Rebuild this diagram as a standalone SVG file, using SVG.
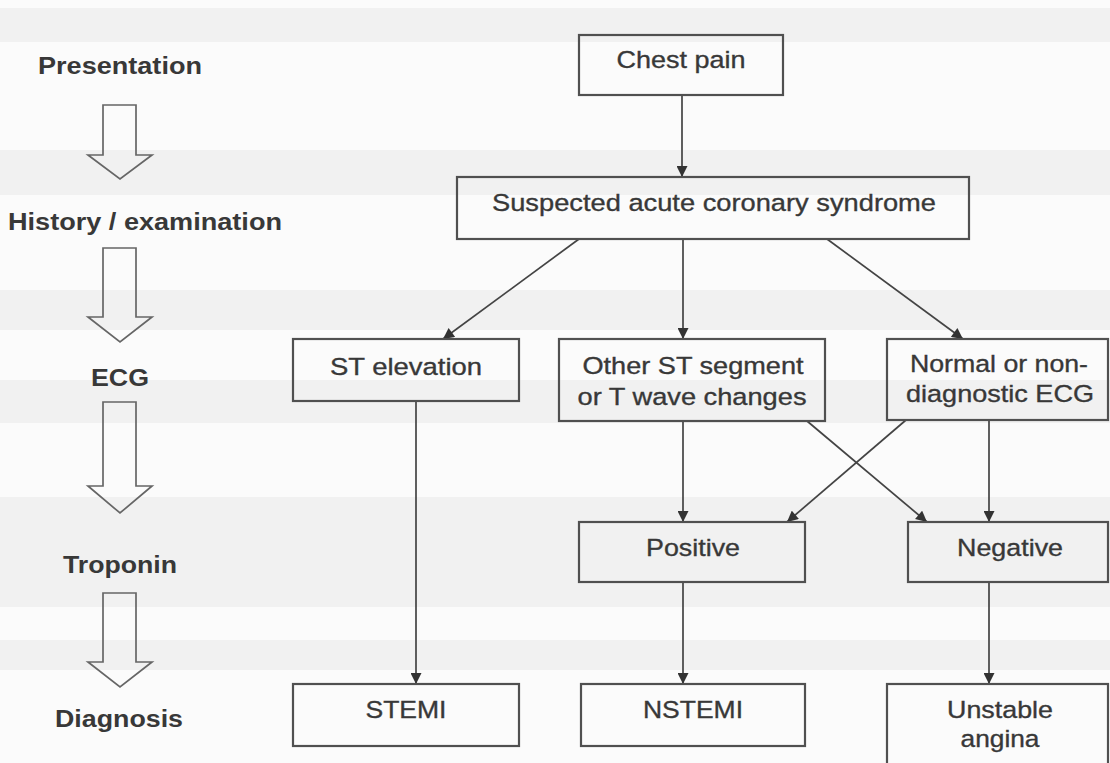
<svg xmlns="http://www.w3.org/2000/svg" width="1110" height="763" viewBox="0 0 1110 763">
<defs>
<style>
.bg{fill:#fbfbfb}
.band{fill:#f1f1f1}
.box{fill:none;stroke:#505050;stroke-width:2.2}
.t{font-family:"Liberation Sans",Arial,sans-serif;font-size:24.5px;fill:#383838;stroke:#383838;stroke-width:0.35;text-anchor:middle}
.lb{font-family:"Liberation Sans",Arial,sans-serif;font-size:23px;font-weight:bold;fill:#383838;text-anchor:middle}
.c{fill:none;stroke:#444;stroke-width:1.7;marker-end:url(#ah)}
.ha{fill:none;stroke:#666;stroke-width:1.7;stroke-linejoin:miter}
</style>
<marker id="ah" viewBox="0 0 10 10" refX="10" refY="5" markerWidth="12" markerHeight="11" orient="auto" markerUnits="userSpaceOnUse">
<path d="M0,0 L10,5 L0,10 Z" fill="#333"/>
</marker>
</defs>
<rect class="bg" x="0" y="0" width="1110" height="763"/>
<rect class="band" x="0" y="8" width="1110" height="34"/>
<rect class="band" x="0" y="150" width="1110" height="45"/>
<rect class="band" x="0" y="290" width="1110" height="40"/>
<rect class="band" x="0" y="380" width="1110" height="43"/>
<rect class="band" x="0" y="497" width="1110" height="110"/>
<rect class="band" x="0" y="640" width="1110" height="30"/>

<g id="stages">
<text class="lb" x="120" y="74" textLength="164" lengthAdjust="spacingAndGlyphs">Presentation</text>
<text class="lb" x="145" y="230" textLength="274" lengthAdjust="spacingAndGlyphs">History / examination</text>
<text class="lb" x="120" y="386" textLength="58" lengthAdjust="spacingAndGlyphs">ECG</text>
<text class="lb" x="120" y="573" textLength="114" lengthAdjust="spacingAndGlyphs">Troponin</text>
<text class="lb" x="119" y="727" textLength="128" lengthAdjust="spacingAndGlyphs">Diagnosis</text>
</g>
<g id="stage-arrows">
<path class="ha" d="M103,105 H136 V155 H152 L120,179 L88,155 H103 Z"/>
<path class="ha" d="M103,248 H136 V317 H152 L120,342 L88,317 H103 Z"/>
<path class="ha" d="M103,402 H136 V486 H152 L120,513 L88,486 H103 Z"/>
<path class="ha" d="M103,593 H136 V662 H152 L120,687 L88,662 H103 Z"/>
</g>

<g id="connectors">
<line class="c" x1="682" y1="95" x2="682" y2="177"/>
<line class="c" x1="579" y1="239" x2="443" y2="339"/>
<line class="c" x1="683" y1="239" x2="683" y2="339"/>
<line class="c" x1="827" y1="239" x2="963" y2="339"/>
<line class="c" x1="416" y1="401" x2="416" y2="684"/>
<line class="c" x1="683" y1="421" x2="683" y2="522"/>
<line class="c" x1="807" y1="421" x2="927" y2="522"/>
<line class="c" x1="906" y1="420" x2="787" y2="522"/>
<line class="c" x1="989" y1="420" x2="989" y2="522"/>
<line class="c" x1="683" y1="582" x2="683" y2="684"/>
<line class="c" x1="989" y1="582" x2="989" y2="684"/>
</g>

<g id="chest-pain">
<rect class="box" x="579" y="35" width="204" height="60"/>
<text class="t" x="681" y="68" textLength="129" lengthAdjust="spacingAndGlyphs">Chest pain</text>
</g>
<g id="suspected-acs">
<rect class="box" x="457" y="177" width="512" height="62"/>
<text class="t" x="714" y="211" textLength="444" lengthAdjust="spacingAndGlyphs">Suspected acute coronary syndrome</text>
</g>
<g id="st-elevation">
<rect class="box" x="293" y="339" width="226" height="62"/>
<text class="t" x="406" y="375" textLength="152" lengthAdjust="spacingAndGlyphs">ST elevation</text>
</g>
<g id="other-st">
<rect class="box" x="559" y="339" width="266" height="82"/>
<text class="t" x="693" y="374" textLength="221" lengthAdjust="spacingAndGlyphs">Other ST segment</text>
<text class="t" x="692" y="405" textLength="229" lengthAdjust="spacingAndGlyphs">or T wave changes</text>
</g>
<g id="normal-ecg">
<rect class="box" x="887" y="339" width="221" height="81"/>
<text class="t" x="999" y="372" textLength="178" lengthAdjust="spacingAndGlyphs">Normal or non-</text>
<text class="t" x="1000" y="402" textLength="188" lengthAdjust="spacingAndGlyphs">diagnostic ECG</text>
</g>
<g id="positive">
<rect class="box" x="579" y="522" width="226" height="60"/>
<text class="t" x="693" y="556" textLength="94" lengthAdjust="spacingAndGlyphs">Positive</text>
</g>
<g id="negative">
<rect class="box" x="908" y="522" width="200" height="60"/>
<text class="t" x="1010" y="556" textLength="106" lengthAdjust="spacingAndGlyphs">Negative</text>
</g>
<g id="stemi">
<rect class="box" x="293" y="684" width="226" height="62"/>
<text class="t" x="406" y="718" textLength="81" lengthAdjust="spacingAndGlyphs">STEMI</text>
</g>
<g id="nstemi">
<rect class="box" x="581" y="684" width="224" height="62"/>
<text class="t" x="693" y="718" textLength="100" lengthAdjust="spacingAndGlyphs">NSTEMI</text>
</g>
<g id="unstable-angina">
<rect class="box" x="887" y="684" width="221" height="90"/>
<text class="t" x="1000" y="718" textLength="106" lengthAdjust="spacingAndGlyphs">Unstable</text>
<text class="t" x="1000" y="747" textLength="79" lengthAdjust="spacingAndGlyphs">angina</text>
</g>
</svg>
